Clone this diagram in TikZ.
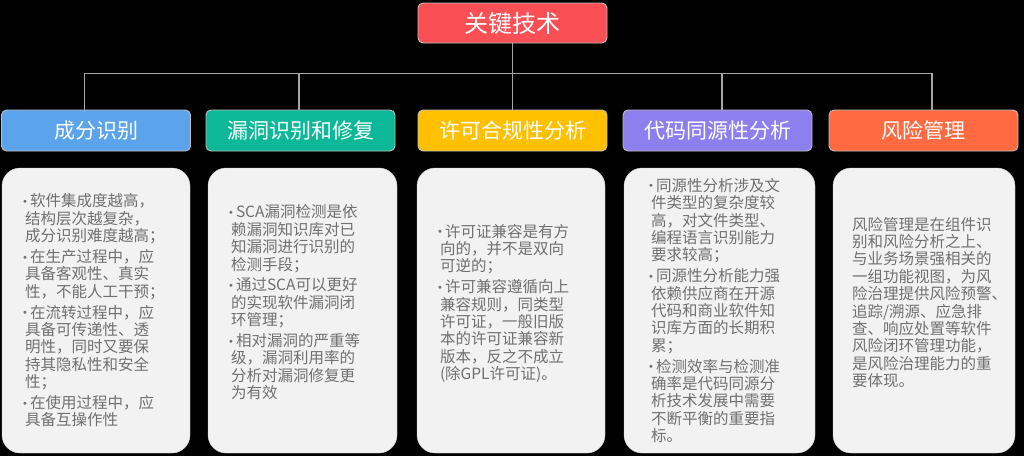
\documentclass[tikz,border=0pt]{standalone}
\usepackage{fontspec}
\setmainfont{Noto Sans CJK SC}
\newfontfamily\symfont{DejaVu Sans}
\usepackage{tikz}
\usetikzlibrary{positioning}
\definecolor{LineGray}{RGB}{166,166,166}
\definecolor{EdgeGray}{RGB}{190,190,190}
\definecolor{BoxGray}{RGB}{242,242,242}
\definecolor{TextGray}{RGB}{112,112,112}
\definecolor{Red}{RGB}{250,80,85}
\definecolor{Blue}{RGB}{91,163,234}
\definecolor{Teal}{RGB}{12,184,152}
\definecolor{Amber}{RGB}{255,192,0}
\definecolor{Purple}{RGB}{142,127,238}
\definecolor{Coral}{RGB}{255,106,64}
\newcommand{\bul}{\makebox[8pt][l]{\raisebox{1.5pt}{\symfont\fontsize{10}{10}\selectfont •}}}
\newcommand{\cnt}{\hspace*{3pt}}

\begin{document}
\begin{tikzpicture}[x=1pt,y=-1pt,
    head/.style={draw=EdgeGray,line width=0.9pt,text=white,rounded corners=5pt,
      minimum width=189pt,minimum height=41pt,inner sep=0pt,font=\fontsize{21}{24}\selectfont},
    desc/.style={draw=EdgeGray!70,fill=BoxGray,text=TextGray,rounded corners=18pt,
      minimum height=285pt,inner ysep=0pt,align=left,font=\fontsize{15.5}{17.4}\selectfont},
    link/.style={draw=LineGray,line width=1.2pt}]
    \useasboundingbox (0,0) rectangle (1024,456);
    \fill[black] (0,0) rectangle (1024,456);

    \node[head,fill=Red,font=\fontsize{24}{28}\selectfont,minimum height=40pt] (key) at (512.5,23) {关键技术};

    \node[head,fill=Blue] (comp) at (96,130.5) {成分识别};
    \node[head,fill=Teal] (vuln) at (300.5,130.5) {漏洞识别和修复};
    \node[head,fill=Amber] (lic) at (512.5,130.5) {许可合规性分析};
    \node[head,fill=Purple] (homo) at (717.5,130.5) {代码同源性分析};
    \node[head,fill=Coral] (risk) at (923.5,130.5) {风险管理};

    \node[desc,minimum width=188pt,text width=148pt,inner xsep=20pt] (compText) at (96,310.5) {%
\bul 软件集成度越高，\\
\cnt 结构层次越复杂，\\
\cnt 成分识别难度越高；\\[3.4pt]
\bul 在生产过程中，应\\
\cnt 具备客观性、真实\\
\cnt 性，不能人工干预；\\[3.4pt]
\bul 在流转过程中，应\\
\cnt 具备可传递性、透\\
\cnt 明性，同时又要保\\
\cnt 持其隐私性和安全\\
\cnt 性；\\[3.4pt]
\bul 在使用过程中，应\\
\cnt 具备互操作性};

    \node[desc,minimum width=189pt,text width=149pt,inner xsep=20pt] (vulnText) at (302.5,310.5) {%
\bul SCA漏洞检测是依\\
\cnt 赖漏洞知识库对已\\
\cnt 知漏洞进行识别的\\
\cnt 检测手段；\\[3.4pt]
\bul 通过SCA可以更好\\
\cnt 的实现软件漏洞闭\\
\cnt 环管理；\\[3.4pt]
\bul 相对漏洞的严重等\\
\cnt 级，漏洞利用率的\\
\cnt 分析对漏洞修复更\\
\cnt 为有效\\ \mbox{}};

    \node[desc,minimum width=188pt,text width=148pt,inner xsep=20pt] (licText) at (511,310.5) {%
\bul 许可证兼容是有方\\
\cnt 向的，并不是双向\\
\cnt 可逆的；\\[3.4pt]
\bul 许可兼容遵循向上\\
\cnt 兼容规则，同类型\\
\cnt 许可证，一般旧版\\
\cnt 本的许可证兼容新\\
\cnt 版本，反之不成立\\
\cnt (除GPL许可证)。\\ \mbox{}};

    \node[desc,minimum width=191pt,text width=143pt,inner xsep=24pt] (homoText) at (719.5,310.5) {%
\bul 同源性分析涉及文\\
\cnt 件类型的复杂度较\\
\cnt 高，对文件类型、\\
\cnt 编程语言识别能力\\
\cnt 要求较高；\\[3.4pt]
\bul 同源性分析能力强\\
\cnt 依赖供应商在开源\\
\cnt 代码和商业软件知\\
\cnt 识库方面的长期积\\
\cnt 累；\\[3.4pt]
\bul 检测效率与检测准\\
\cnt 确率是代码同源分\\
\cnt 析技术发展中需要\\
\cnt 不断平衡的重要指\\
\cnt 标。};

    \node[desc,minimum width=182pt,text width=144pt,inner xsep=19pt] (riskText) at (924,310.5) {%
风险管理是在组件识\\
别和风险分析之上、\\
与业务场景强相关的\\
一组功能视图，为风\\
险治理提供风险预警、\\
追踪/溯源、应急排\\
查、响应处置等软件\\
风险闭环管理功能，\\
是风险治理能力的重\\
要体现。\\ \mbox{}};

    \draw[link] (key) -- (lic);
    \draw[link] (key.south) -- ++(0,30) -| ([xshift=-11.5pt]comp.north);
    \draw[link] (key.south) -- ++(0,30) -| ([xshift=-1.5pt]vuln.north);
    \draw[link] (key.south) -- ++(0,30) -| ([xshift=4.5pt]homo.north);
    \draw[link] (key.south) -- ++(0,30) -| ([xshift=8.5pt]risk.north);
\end{tikzpicture}
\end{document}
